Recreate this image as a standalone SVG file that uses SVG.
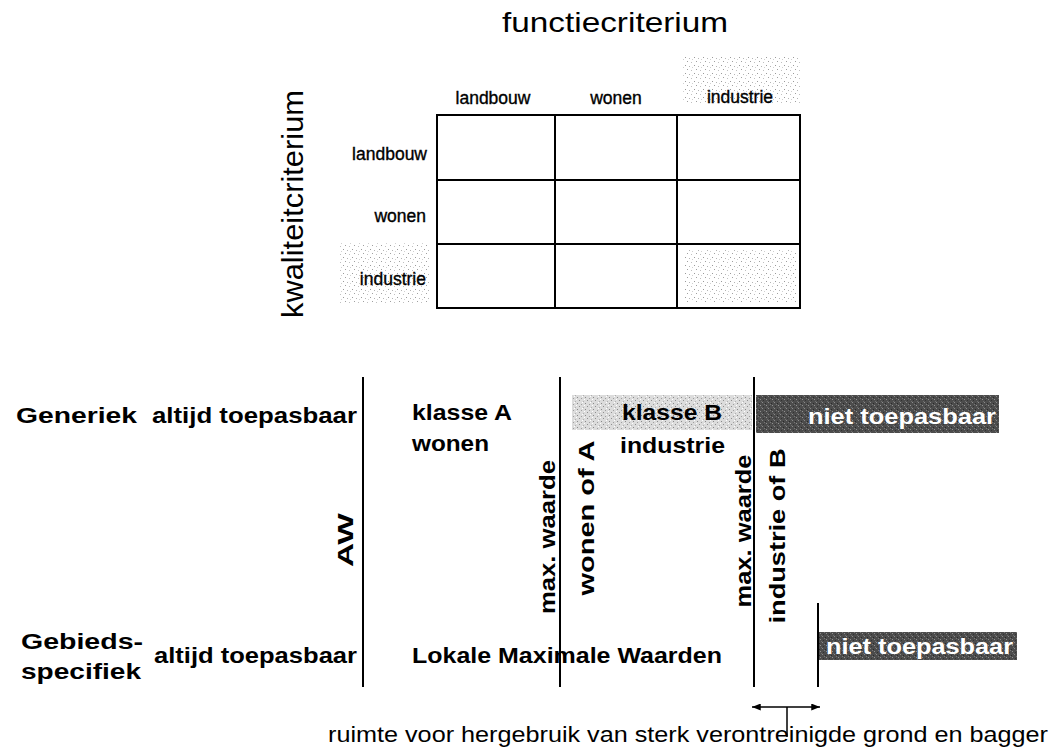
<svg xmlns="http://www.w3.org/2000/svg" width="1055" height="747" viewBox="0 0 1055 747">
<defs>
<style>
.t{font-family:"Liberation Sans",Arial,sans-serif;fill:#000}
.n{font-size:17.5px;stroke:#000;stroke-width:0.35}
.b{font-family:"Liberation Sans",Arial,sans-serif;font-weight:bold;font-size:22px;fill:#000}
.w{fill:#fff}
.ln{stroke:#000;stroke-width:2;fill:none}
.grid{stroke:#000;stroke-width:2;fill:#fff}
</style>
<pattern id="stip" width="9" height="8" patternUnits="userSpaceOnUse">
<rect width="9" height="8" fill="#fff"/>
<rect x="1" y="1" width="1" height="1" fill="#9a9a9a"/>
<rect x="5" y="2" width="1" height="1" fill="#b5b5b5"/>
<rect x="3" y="5" width="1" height="1" fill="#a0a0a0"/>
<rect x="7" y="6" width="1" height="1" fill="#c0c0c0"/>
<rect x="8" y="3" width="1" height="1" fill="#d0d0d0"/>
</pattern>
<pattern id="stipd" width="8" height="6" patternUnits="userSpaceOnUse">
<rect width="8" height="6" fill="#dcdcdc"/>
<rect x="1" y="1" width="1" height="1" fill="#8a8a8a"/>
<rect x="5" y="2" width="1" height="1" fill="#9f9f9f"/>
<rect x="3" y="4" width="1" height="1" fill="#8f8f8f"/>
<rect x="7" y="5" width="1" height="1" fill="#b0b0b0"/>
<rect x="0" y="3" width="1" height="1" fill="#fff"/>
<rect x="6" y="0" width="1" height="1" fill="#fff"/>
</pattern>
<pattern id="dark" width="6" height="6" patternUnits="userSpaceOnUse">
<rect width="6" height="6" fill="#4c4c4c"/>
<rect x="0" y="0" width="1" height="1" fill="#8a8a8a"/>
<rect x="3" y="1" width="1" height="1" fill="#2a2a2a"/>
<rect x="4" y="3" width="1" height="1" fill="#909090"/>
<rect x="1" y="4" width="1" height="1" fill="#333"/>
<rect x="2" y="2" width="1" height="1" fill="#777"/>
<rect x="5" y="5" width="1" height="1" fill="#6e6e6e"/>
</pattern>
<marker id="ah" viewBox="0 0 10 8" refX="10" refY="4" markerWidth="10" markerHeight="7" markerUnits="userSpaceOnUse" orient="auto-start-reverse">
<path d="M0,0 L10,4 L0,8 Z" fill="#000"/>
</marker>
</defs>
<rect width="1055" height="747" fill="#fff"/>

<g id="titles">
<text class="t" x="615" y="32" font-size="28" text-anchor="middle" textLength="226" lengthAdjust="spacingAndGlyphs">functiecriterium</text>
<text class="t" font-size="29" text-anchor="middle" textLength="228" lengthAdjust="spacingAndGlyphs" transform="translate(303,204) rotate(-90)">kwaliteitcriterium</text>
</g>

<g id="matrix">
<rect x="683" y="55" width="117" height="49" fill="url(#stip)"/>
<rect x="340" y="243" width="90" height="61" fill="url(#stip)"/>
<rect class="grid" x="437" y="115" width="363" height="193"/>
<rect x="684" y="250" width="112" height="52" fill="url(#stip)"/>
<line class="ln" x1="555" y1="115" x2="555" y2="308"/>
<line class="ln" x1="677" y1="115" x2="677" y2="308"/>
<line class="ln" x1="437" y1="180" x2="800" y2="180"/>
<line class="ln" x1="437" y1="244" x2="800" y2="244"/>
<text class="t n" x="493" y="104" text-anchor="middle">landbouw</text>
<text class="t n" x="616" y="104" text-anchor="middle">wonen</text>
<text class="t n" x="740" y="103" text-anchor="middle">industrie</text>
<text class="t n" x="427" y="160" text-anchor="end">landbouw</text>
<text class="t n" x="426" y="222" text-anchor="end">wonen</text>
<text class="t n" x="426" y="285" text-anchor="end">industrie</text>
</g>

<g id="bands">
<rect x="572" y="395" width="180" height="35" fill="url(#stipd)"/>
<rect x="756" y="395" width="243" height="38" fill="url(#dark)"/>
<rect x="819" y="632" width="198" height="28" fill="url(#dark)"/>
</g>

<g id="connectors">
<line class="ln" x1="363" y1="377" x2="363" y2="687"/>
<line class="ln" x1="560" y1="377" x2="560" y2="687"/>
<line class="ln" x1="754" y1="377" x2="754" y2="687"/>
<line class="ln" x1="818" y1="603" x2="818" y2="687"/>
<line stroke="#000" stroke-width="1.5" x1="752" y1="707" x2="820" y2="707" marker-start="url(#ah)" marker-end="url(#ah)"/>
<line stroke="#000" stroke-width="1.5" x1="787" y1="707" x2="787" y2="737"/>
</g>

<g id="generiek">
<text class="b" x="16" y="423" textLength="121" lengthAdjust="spacingAndGlyphs">Generiek</text>
<text class="b" x="152" y="423" textLength="205" lengthAdjust="spacingAndGlyphs">altijd toepasbaar</text>
<text class="b" x="412" y="420" textLength="100" lengthAdjust="spacingAndGlyphs">klasse A</text>
<text class="b" x="412" y="451" textLength="77" lengthAdjust="spacingAndGlyphs">wonen</text>
<text class="b" x="622" y="420" textLength="100" lengthAdjust="spacingAndGlyphs">klasse B</text>
<text class="b" x="620" y="453" textLength="105" lengthAdjust="spacingAndGlyphs">industrie</text>
<text class="b w" x="808" y="424" textLength="188" lengthAdjust="spacingAndGlyphs">niet toepasbaar</text>
</g>

<g id="grenzen">
<text class="b" font-size="28" text-anchor="middle" textLength="54" lengthAdjust="spacingAndGlyphs" transform="translate(353,540) rotate(-90)">AW</text>
<text class="b" text-anchor="middle" textLength="154" lengthAdjust="spacingAndGlyphs" transform="translate(555,537) rotate(-90)">max. waarde</text>
<text class="b" text-anchor="middle" textLength="155" lengthAdjust="spacingAndGlyphs" transform="translate(594,518) rotate(-90)">wonen of A</text>
<text class="b" text-anchor="middle" textLength="153" lengthAdjust="spacingAndGlyphs" transform="translate(751,531) rotate(-90)">max. waarde</text>
<text class="b" text-anchor="middle" textLength="175" lengthAdjust="spacingAndGlyphs" transform="translate(785,536) rotate(-90)">industrie of B</text>
</g>

<g id="gebiedsspecifiek">
<text class="b" x="21" y="649" textLength="122" lengthAdjust="spacingAndGlyphs">Gebieds-</text>
<text class="b" x="21" y="679" textLength="120" lengthAdjust="spacingAndGlyphs">specifiek</text>
<text class="b" x="154" y="663" textLength="203" lengthAdjust="spacingAndGlyphs">altijd toepasbaar</text>
<text class="b" x="412" y="663" textLength="310" lengthAdjust="spacingAndGlyphs">Lokale Maximale Waarden</text>
<text class="b w" x="826" y="654" textLength="187" lengthAdjust="spacingAndGlyphs">niet toepasbaar</text>
</g>

<g id="note">
<text class="t" x="328" y="742" font-size="22" textLength="720" lengthAdjust="spacingAndGlyphs">ruimte voor hergebruik van sterk verontreinigde grond en bagger</text>
</g>
</svg>
